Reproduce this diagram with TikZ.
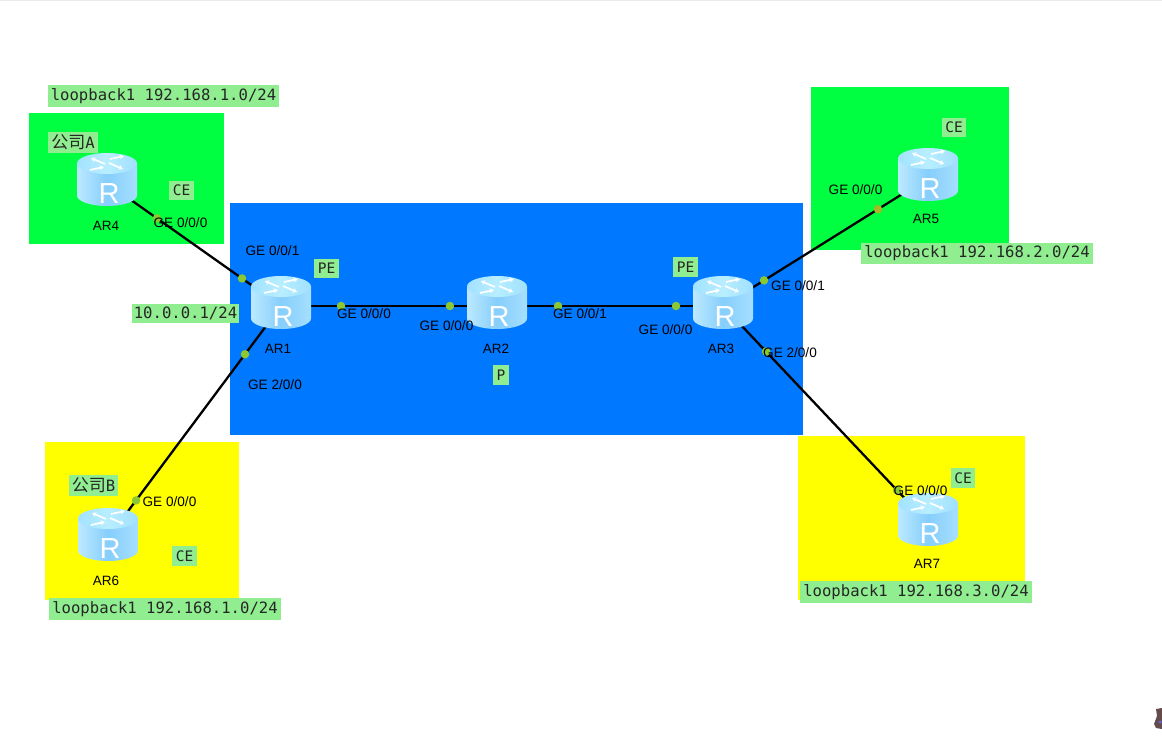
\documentclass[tikz,border=0pt]{standalone}
\usepackage{fontspec}
\setmainfont{Liberation Sans}
\setmonofont{DejaVu Sans Mono}
\newfontfamily\cjk{Noto Sans CJK SC}
\usetikzlibrary{arrows.meta}
\definecolor{zoneblue}{HTML}{0078FF}
\definecolor{zonegreen}{HTML}{00FF40}
\definecolor{zoneyellow}{HTML}{FFFF00}
\definecolor{tagbg}{HTML}{90EE90}
\definecolor{portdot}{HTML}{8CC832}
\definecolor{bodyedge}{HTML}{BCE9FF}
\definecolor{bodyedgeb}{HTML}{A6DFFF}
\definecolor{bodymid}{HTML}{86CEFC}
\definecolor{topa}{HTML}{A2E2FF}
\definecolor{topb}{HTML}{B8EEFF}
\definecolor{topc}{HTML}{A0E0FF}
\tikzset{
  x=1pt,y=-1pt,
  zone/.style={fill=#1,draw=none},
  anchorbox/.style={inner sep=0pt,minimum width=60pt,minimum height=52pt},
  wire/.style={draw=black,line width=2.3pt},
  portdotnode/.style={circle,fill=portdot,inner sep=0pt,minimum size=8.5pt},
  port/.style={font=\fontsize{13.6}{15}\selectfont,text=black,inner sep=0pt},
  devname/.style={font=\fontsize{13.5}{15}\selectfont,text=black,inner sep=0pt},
  tag/.style={fill=tagbg,font=\ttfamily\fontsize{15.6}{18}\selectfont,text=black!85,inner xsep=3pt,inner ysep=3pt},
  shorttag/.style={fill=tagbg,font=\ttfamily\fontsize{14.5}{17}\selectfont,text=black!85,inner xsep=3.5pt,inner ysep=4.5pt},
  topflow/.style={draw=white,line width=1.7pt,-{Stealth[length=4.4pt,width=5pt]}},
  pics/routericon/.style={code={
    \path[left color=bodyedge,right color=bodyedgeb,middle color=bodymid]
      (-30,-19.5) -- (-30,12.5) arc[start angle=180,end angle=0,x radius=30,y radius=10.5] -- (30,-19.5) -- cycle;
    \path[left color=topa,right color=topc,middle color=topb,draw=none]
      (0,-19.5) ellipse[x radius=30,y radius=10.5];
    \path[topflow] (-2,-19) -- (-16,-25);
    \path[topflow] (3,-24) -- (17,-27);
    \path[topflow] (-17,-13) -- (-3,-16);
    \path[topflow] (2,-20) -- (16,-14);
    \node[text=white,inner sep=0pt,font=\fontsize{29}{30}\selectfont] (-letter) at (2,11) {R};
  }},
}
\begin{document}
\begin{tikzpicture}
\useasboundingbox (0,0) rectangle (1162,741);
\fill[white] (0,0) rectangle (1162,741);
\draw[black!8,line width=.8pt] (0,0.4) -- (1162,0.4);

\fill[zone=zoneblue] (230,203) rectangle (803,435);
\fill[zone=zonegreen] (29,113) rectangle (224,244);
\fill[zone=zonegreen] (811,87) rectangle (1009,250);
\fill[zone=zoneyellow] (45,442) rectangle (239,600);
\fill[zone=zoneyellow] (798,436) rectangle (1025,600);

\node[anchorbox] (ar1) at (281,306) {};
\node[anchorbox] (ar2) at (497,306) {};
\node[anchorbox] (ar3) at (723,306) {};
\node[anchorbox] (ar4) at (107,183) {};
\node[anchorbox] (ar5) at (928,178) {};
\node[anchorbox] (ar6) at (108,538) {};
\node[anchorbox] (ar7) at (928,523) {};

\path[wire] (ar4.center) -- node[pos=.287,portdotnode] (d41) {} node[pos=.776,portdotnode] (d42) {} (ar1.center);
\path[wire] (ar1.center) -- node[pos=.278,portdotnode] (d11) {} node[pos=.782,portdotnode] (d12) {} (ar2.center);
\path[wire] (ar2.center) -- node[pos=.27,portdotnode] (d21) {} node[pos=.792,portdotnode] (d22) {} (ar3.center);
\path[wire] (ar3.center) -- node[pos=.2,portdotnode] (d31) {} node[pos=.756,portdotnode,fill=portdot!75!orange] (d32) {} (ar5.center);
\path[wire] (ar3.center) -- node[pos=.21,portdotnode] (d33) {} node[pos=.849,portdotnode] (d34) {} (ar7.center);
\path[wire] (ar1.center) -- node[pos=.208,portdotnode] (d13) {} node[pos=.838,portdotnode] (d14) {} (ar6.center);

\pic (iar1) at (ar1.center) {routericon};
\pic (iar2) at (ar2.center) {routericon};
\pic (iar3) at (ar3.center) {routericon};
\pic (iar4) at (ar4.center) {routericon};
\pic (iar5) at (ar5.center) {routericon};
\pic (iar6) at (ar6.center) {routericon};
\pic (iar7) at (ar7.center) {routericon};

\node[devname] (n1) at (278,349) {AR1};
\node[devname] (n2) at (496,349) {AR2};
\node[devname] (n3) at (721,349) {AR3};
\node[devname] (n4) at (106,226) {AR4};
\node[devname] (n5) at (926,219) {AR5};
\node[devname] (n6) at (106,581) {AR6};
\node[devname] (n7) at (927,564) {AR7};

\node[port] (p1) at (180.5,223) {GE 0/0/0};
\node[port] (p2) at (272.5,251) {GE 0/0/1};
\node[port] (p3) at (364,314) {GE 0/0/0};
\node[port] (p4) at (446.5,326) {GE 0/0/0};
\node[port] (p5) at (580,314) {GE 0/0/1};
\node[port] (p6) at (665.5,330) {GE 0/0/0};
\node[port] (p7) at (798,286) {GE 0/0/1};
\node[port] (p8) at (790,353) {GE 2/0/0};
\node[port] (p9) at (275,385) {GE 2/0/0};
\node[port] (p10) at (855.5,190) {GE 0/0/0};
\node[port] (p11) at (169.5,502) {GE 0/0/0};
\node[port] (p12) at (920.5,491) {GE 0/0/0};

\node[shorttag] (t1) at (326.5,268.5) {PE};
\node[shorttag] (t2) at (685.5,267) {PE};
\node[shorttag] (t3) at (501,375) {P};
\node[shorttag] (t4) at (954,127.5) {CE};
\node[shorttag] (t5) at (181.5,190.5) {CE};
\node[shorttag] (t6) at (184.5,556) {CE};
\node[shorttag] (t7) at (963,478) {CE};
\node[tag,inner xsep=3pt,inner ysep=0pt,minimum height=21.5pt] (t8) at (73,142.5) {{\cjk\fontsize{17}{18}\selectfont 公司}A};
\node[tag,inner xsep=3pt,inner ysep=0pt,minimum height=21.5pt] (t9) at (93.5,485.5) {{\cjk\fontsize{17}{18}\selectfont 公司}B};

\node[tag,inner xsep=2pt] (l0) at (185.5,313.5) {10.0.0.1/24};
\node[tag] (l1) at (163.5,96) {loopback1 192.168.1.0/24};
\node[tag] (l2) at (977,253.5) {loopback1 192.168.2.0/24};
\node[tag] (l3) at (165,609) {loopback1 192.168.1.0/24};
\node[tag] (l4) at (916,592) {loopback1 192.168.3.0/24};

\fill[black!45!red!25!black!70] (1162,708) -- (1156,709) -- (1157,716) -- (1154,724) -- (1156,728) -- (1162,729) -- cycle;
\fill[blue!60!white] (1160,722) circle[radius=1.5];
\end{tikzpicture}
\end{document}
